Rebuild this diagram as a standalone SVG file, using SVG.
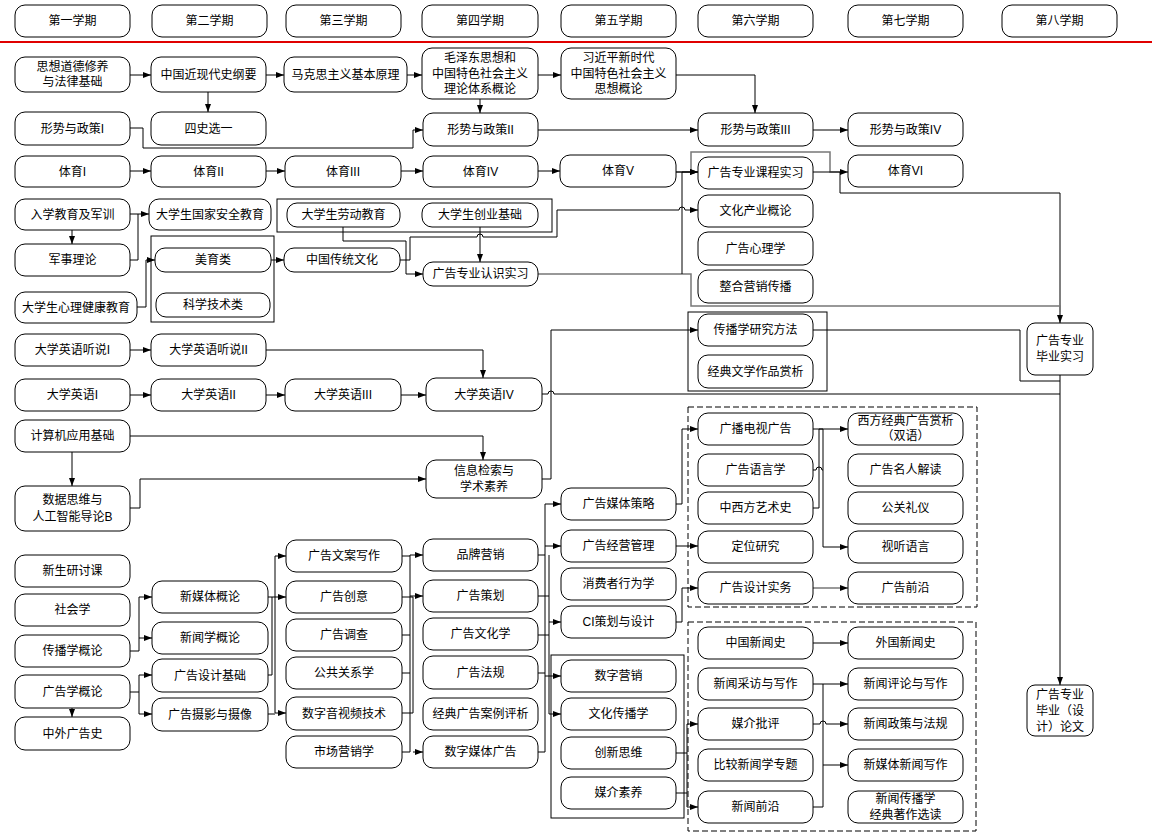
<svg xmlns="http://www.w3.org/2000/svg" width="1152" height="835" viewBox="0 0 1152 835">
<defs>
<marker id="a" markerWidth="8" markerHeight="6" refX="8" refY="3" orient="auto" markerUnits="userSpaceOnUse"><path d="M0,0 L8,3 L0,6 z" fill="#000"/></marker>
</defs>
<style>
.n rect{fill:#fff;stroke:#000;stroke-width:1}
.n text,.h text{font-family:'Liberation Sans','Noto Sans CJK SC',sans-serif;font-size:12px;text-anchor:middle;dominant-baseline:central;fill:#000}
.h rect{fill:#fff;stroke:#000;stroke-width:1}
.g{fill:none;stroke:#000;stroke-width:1}
.d{fill:none;stroke:#000;stroke-width:1;stroke-dasharray:6,3}
.c path{fill:none;stroke:#000;stroke-width:1}
.c path.ar{marker-end:url(#a)}
.c path.gr{stroke:#777;stroke-width:1.5}
</style>
<rect width="1152" height="835" fill="#fff"/>
<g id="headers">
<g class="h" id="h1"><rect x="15" y="5" width="115" height="32" rx="10"/><text x="72.5" y="21">第一学期</text></g>
<g class="h" id="h2"><rect x="152" y="5" width="115" height="32" rx="10"/><text x="209.5" y="21">第二学期</text></g>
<g class="h" id="h3"><rect x="286" y="5" width="115" height="32" rx="10"/><text x="343.5" y="21">第三学期</text></g>
<g class="h" id="h4"><rect x="422" y="5" width="116" height="32" rx="10"/><text x="480" y="21">第四学期</text></g>
<g class="h" id="h5"><rect x="561" y="5" width="115" height="32" rx="10"/><text x="618.5" y="21">第五学期</text></g>
<g class="h" id="h6"><rect x="698" y="5" width="115" height="32" rx="10"/><text x="755.5" y="21">第六学期</text></g>
<g class="h" id="h7"><rect x="848" y="5" width="115" height="32" rx="10"/><text x="905.5" y="21">第七学期</text></g>
<g class="h" id="h8"><rect x="1002" y="5" width="115" height="32" rx="10"/><text x="1059.5" y="21">第八学期</text></g>
</g>
<line x1="0" y1="42" x2="1152" y2="42" stroke="#e00000" stroke-width="2"/>

<g id="groups">
<rect class="g" x="277" y="199" width="275" height="33"/>
<rect class="g" x="151" y="236" width="123" height="86"/>
<rect class="g" x="688" y="312" width="139" height="79"/>
<rect class="g" x="551" y="655" width="133" height="163"/>
<rect class="d" x="688" y="407" width="289" height="200"/>
<rect class="d" x="688" y="622" width="288" height="209"/>
</g>

<g class="c" id="connectors">
<path class="ar" d="M130,75 H151"/>
<path class="ar" d="M266,75 H284"/>
<path class="ar" d="M407,75 H422"/>
<path class="ar" d="M538,75 H561"/>
<path class="ar" d="M208,92 V112"/>
<path class="ar" d="M480,99 V113"/>
<path class="ar" d="M676,75 H755 V113"/>
<path class="ar" d="M130,128 H143 V148 H413 V130 H423"/>
<path class="ar" d="M538,130 H698"/>
<path class="ar" d="M813,130 H848"/>
<path class="ar" d="M130,171 H151"/>
<path class="ar" d="M266,171 H285"/>
<path class="ar" d="M401,171 H423"/>
<path class="ar" d="M538,171 H560"/>
<path class="ar gr" d="M676,172 H691 V152 H830 V172 H848"/>
<path class="ar" d="M676,172 H698"/>
<path class="ar" d="M813,172 H840 V193 H1060 V323"/>
<path class="gr" d="M538,274 H691 V306 H1060 V312"/>
<path class="ar" d="M682,274 V172 H698"/>
<path class="ar" d="M400,260 H410 V237 H477 a3,3 0 0 1 6,0 H557 V210 H679 a3,3 0 0 1 6,0 H698"/>
<path class="ar" d="M343,227 V241 H406 V274 H423"/>
<path class="ar" d="M480,227 V262"/>
<path class="ar" d="M130,214 H149"/>
<path d="M130,260 H138 V214"/>
<path class="ar" d="M72,230 V244"/>
<path class="ar" d="M137,307 H146 V260 H155"/>
<path class="ar" d="M271,260 H284"/>
<path class="ar" d="M130,350 H151"/>
<path class="ar" d="M266,350 H483 V378"/>
<path class="ar" d="M130,395 H151"/>
<path class="ar" d="M266,395 H285"/>
<path class="ar" d="M401,395 H426"/>
<path class="ar" d="M542,394 H548 a3,3 0 0 1 6,0 H1060 V685"/>
<path class="ar" d="M130,436 H483 V460"/>
<path class="ar" d="M72,452 V486"/>
<path class="ar" d="M130,508 H140 V479 H426"/>
<path class="ar" d="M542,479 H551 V330 H698"/>
<path d="M813,330 H1020 V381 H1060"/>
<path d="M1060,375 V394"/>
<path class="ar" d="M813,429 H848"/>
<path d="M813,470 H816 a3,3 0 0 1 6,0 H823"/>
<path d="M813,508 H819 V429"/>
<path class="ar" d="M819,429 H823 V547 H848"/>
<path class="ar gr" d="M813,588 H848"/>
<path class="ar" d="M676,504 H682 V429 H698"/>
<path class="ar" d="M676,546 H698"/>
<path class="ar" d="M676,622 H682 V588 H698"/>
<path class="ar" d="M813,643 H848"/>
<path class="ar" d="M813,684 H848"/>
<path class="ar" d="M813,724 H820 a3,3 0 0 1 6,0 H848"/>
<path d="M813,807 H823 V684"/>
<path class="ar" d="M823,765 H848"/>
<path d="M676,753 H687"/>
<path d="M676,793 H687"/>
<path d="M687,724 V807"/>
<path class="ar" d="M687,724 H698"/>
<path class="ar" d="M687,807 H698"/>
<path class="ar" d="M130,651 H139 V597 H152"/>
<path class="ar" d="M139,638 H152"/>
<path class="ar" d="M130,692 H139 V675 H152"/>
<path class="ar" d="M139,692 V714 H152"/>
<path class="ar" d="M72,708 V717"/>
<path d="M268,597 H272 V675 H268"/>
<path d="M268,714 H272"/>
<path d="M275,556 V713"/>
<path d="M272,597 H275"/>
<path d="M272,714 H275"/>
<path class="ar" d="M275,556 H286"/>
<path class="ar" d="M275,597 H286"/>
<path class="ar" d="M275,713 H286"/>
<path d="M402,556 H410"/>
<path d="M402,597 H413"/>
<path d="M402,635 H410"/>
<path d="M402,673 H410"/>
<path d="M402,713 H413"/>
<path d="M402,752 H410"/>
<path d="M410,555 V752"/>
<path d="M413,597 V713"/>
<path class="ar" d="M410,555 H423"/>
<path class="ar" d="M410,596 H423"/>
<path class="ar" d="M413,752 H423"/>
<path d="M538,555 H545"/>
<path d="M538,596 H549"/>
<path d="M538,635 H549"/>
<path d="M538,673 H545"/>
<path d="M538,752 H545"/>
<path d="M545,504 V752"/>
<path d="M549,555 V714"/>
<path class="ar" d="M545,504 H561"/>
<path class="ar" d="M545,546 H561"/>
<path class="ar" d="M549,622 H561"/>
<path class="ar" d="M545,676 H561"/>
<path class="ar" d="M549,714 H561"/>
</g>

<g id="nodes">
<g class="n" id="sxdd"><rect x="15" y="57" width="115" height="35" rx="10"/><text x="72.5" y="67">思想道德修养</text><text x="72.5" y="82">与法律基础</text></g>
<g class="n" id="zgjxd"><rect x="151" y="57" width="115" height="35" rx="10"/><text x="208.5" y="74.5">中国近现代史纲要</text></g>
<g class="n" id="mks"><rect x="284" y="57" width="123" height="35" rx="10"/><text x="345.5" y="74.5">马克思主义基本原理</text></g>
<g class="n" id="mzd"><rect x="422" y="48" width="116" height="51" rx="10"/><text x="480" y="58">毛泽东思想和</text><text x="480" y="74">中国特色社会主义</text><text x="480" y="89">理论体系概论</text></g>
<g class="n" id="xjp"><rect x="561" y="48" width="115" height="51" rx="10"/><text x="618.5" y="58">习近平新时代</text><text x="618.5" y="74">中国特色社会主义</text><text x="618.5" y="89">思想概论</text></g>
<g class="n" id="xs1"><rect x="15" y="112" width="115" height="33" rx="10"/><text x="72.5" y="128.5">形势与政策I</text></g>
<g class="n" id="ssxy"><rect x="151" y="112" width="115" height="33" rx="10"/><text x="208.5" y="128.5">四史选一</text></g>
<g class="n" id="xs2"><rect x="423" y="113" width="115" height="33" rx="10"/><text x="480.5" y="129.5">形势与政策II</text></g>
<g class="n" id="xs3"><rect x="698" y="113" width="115" height="33" rx="10"/><text x="755.5" y="129.5">形势与政策III</text></g>
<g class="n" id="xs4"><rect x="848" y="113" width="115" height="33" rx="10"/><text x="905.5" y="129.5">形势与政策IV</text></g>
<g class="n" id="ty1"><rect x="15" y="156" width="115" height="31" rx="10"/><text x="72.5" y="171.5">体育I</text></g>
<g class="n" id="ty2"><rect x="151" y="156" width="115" height="31" rx="10"/><text x="208.5" y="171.5">体育II</text></g>
<g class="n" id="ty3"><rect x="285" y="156" width="116" height="31" rx="10"/><text x="343" y="171.5">体育III</text></g>
<g class="n" id="ty4"><rect x="423" y="156" width="115" height="31" rx="10"/><text x="480.5" y="171.5">体育IV</text></g>
<g class="n" id="ty5"><rect x="560" y="155" width="116" height="32" rx="10"/><text x="618" y="171">体育V</text></g>
<g class="n" id="kcsx"><rect x="698" y="157" width="115" height="32" rx="10"/><text x="755.5" y="173">广告专业课程实习</text></g>
<g class="n" id="ty6"><rect x="848" y="155" width="115" height="32" rx="10"/><text x="905.5" y="171">体育VI</text></g>
<g class="n" id="rxjy"><rect x="15" y="199" width="115" height="31" rx="10"/><text x="72.5" y="214.5">入学教育及军训</text></g>
<g class="n" id="gjaq"><rect x="149" y="199" width="122" height="31" rx="10"/><text x="210" y="214.5">大学生国家安全教育</text></g>
<g class="n" id="ldjy"><rect x="287" y="203" width="113" height="24" rx="10"/><text x="343.5" y="215">大学生劳动教育</text></g>
<g class="n" id="cyjc"><rect x="422" y="203" width="116" height="24" rx="10"/><text x="480" y="215">大学生创业基础</text></g>
<g class="n" id="whcy"><rect x="698" y="195" width="115" height="32" rx="10"/><text x="755.5" y="211">文化产业概论</text></g>
<g class="n" id="jsll"><rect x="15" y="244" width="115" height="32" rx="10"/><text x="72.5" y="260">军事理论</text></g>
<g class="n" id="myl"><rect x="155" y="248" width="116" height="24" rx="10"/><text x="213" y="260">美育类</text></g>
<g class="n" id="kxjs"><rect x="156" y="293" width="114" height="24" rx="10"/><text x="213" y="305">科学技术类</text></g>
<g class="n" id="ctwh"><rect x="284" y="248" width="116" height="24" rx="10"/><text x="342" y="260">中国传统文化</text></g>
<g class="n" id="rssx"><rect x="423" y="262" width="115" height="24" rx="10"/><text x="480.5" y="274">广告专业认识实习</text></g>
<g class="n" id="ggxl"><rect x="698" y="232" width="115" height="33" rx="10"/><text x="755.5" y="248.5">广告心理学</text></g>
<g class="n" id="zhyx"><rect x="698" y="270" width="115" height="33" rx="10"/><text x="755.5" y="286.5">整合营销传播</text></g>
<g class="n" id="xljk"><rect x="15" y="292" width="122" height="31" rx="10"/><text x="76" y="307.5">大学生心理健康教育</text></g>
<g class="n" id="cbyj"><rect x="698" y="314" width="115" height="32" rx="10"/><text x="755.5" y="330">传播学研究方法</text></g>
<g class="n" id="jdwx"><rect x="698" y="355" width="115" height="33" rx="10"/><text x="755.5" y="371.5">经典文学作品赏析</text></g>
<g class="n" id="bysx"><rect x="1027" y="323" width="66" height="52" rx="8"/><text x="1060" y="341">广告专业</text><text x="1060" y="357">毕业实习</text></g>
<g class="n" id="tsy1"><rect x="15" y="334" width="115" height="32" rx="10"/><text x="72.5" y="350">大学英语听说I</text></g>
<g class="n" id="tsy2"><rect x="151" y="334" width="115" height="32" rx="10"/><text x="208.5" y="350">大学英语听说II</text></g>
<g class="n" id="yy1"><rect x="15" y="379" width="115" height="32" rx="10"/><text x="72.5" y="395">大学英语I</text></g>
<g class="n" id="yy2"><rect x="151" y="379" width="115" height="32" rx="10"/><text x="208.5" y="395">大学英语II</text></g>
<g class="n" id="yy3"><rect x="285" y="379" width="116" height="32" rx="10"/><text x="343" y="395">大学英语III</text></g>
<g class="n" id="yy4"><rect x="426" y="378" width="116" height="33" rx="10"/><text x="484" y="394.5">大学英语IV</text></g>
<g class="n" id="jsj"><rect x="15" y="420" width="115" height="32" rx="10"/><text x="72.5" y="436">计算机应用基础</text></g>
<g class="n" id="sjsw"><rect x="15" y="486" width="115" height="45" rx="10"/><text x="72.5" y="500">数据思维与</text><text x="72.5" y="517">人工智能导论B</text></g>
<g class="n" id="xxjs"><rect x="426" y="460" width="116" height="38" rx="10"/><text x="484" y="471">信息检索与</text><text x="484" y="487">学术素养</text></g>
<g class="n" id="gbds"><rect x="698" y="413" width="115" height="32" rx="10"/><text x="755.5" y="429">广播电视广告</text></g>
<g class="n" id="ggyy"><rect x="698" y="454" width="115" height="32" rx="10"/><text x="755.5" y="470">广告语言学</text></g>
<g class="n" id="zxys"><rect x="698" y="492" width="115" height="32" rx="10"/><text x="755.5" y="508">中西方艺术史</text></g>
<g class="n" id="dwyj"><rect x="698" y="531" width="115" height="32" rx="10"/><text x="755.5" y="547">定位研究</text></g>
<g class="n" id="ggsj"><rect x="698" y="572" width="115" height="32" rx="10"/><text x="755.5" y="588">广告设计实务</text></g>
<g class="n" id="xfjd"><rect x="848" y="413" width="115" height="32" rx="10"/><text x="905.5" y="421">西方经典广告赏析</text><text x="905.5" y="436">（双语）</text></g>
<g class="n" id="ggmr"><rect x="848" y="454" width="115" height="32" rx="10"/><text x="905.5" y="470">广告名人解读</text></g>
<g class="n" id="gglx"><rect x="848" y="492" width="115" height="32" rx="10"/><text x="905.5" y="508">公关礼仪</text></g>
<g class="n" id="stzy"><rect x="848" y="531" width="115" height="32" rx="10"/><text x="905.5" y="547">视听语言</text></g>
<g class="n" id="ggqy"><rect x="848" y="572" width="115" height="32" rx="10"/><text x="905.5" y="588">广告前沿</text></g>
<g class="n" id="ggmt"><rect x="561" y="488" width="115" height="32" rx="10"/><text x="618.5" y="504">广告媒体策略</text></g>
<g class="n" id="ggjy"><rect x="561" y="530" width="115" height="32" rx="10"/><text x="618.5" y="546">广告经营管理</text></g>
<g class="n" id="xfz"><rect x="561" y="568" width="115" height="32" rx="10"/><text x="618.5" y="584">消费者行为学</text></g>
<g class="n" id="cich"><rect x="561" y="606" width="115" height="32" rx="10"/><text x="618.5" y="622">CI策划与设计</text></g>
<g class="n" id="szyx"><rect x="561" y="660" width="115" height="32" rx="10"/><text x="618.5" y="676">数字营销</text></g>
<g class="n" id="whcb"><rect x="561" y="698" width="115" height="32" rx="10"/><text x="618.5" y="714">文化传播学</text></g>
<g class="n" id="cxsw"><rect x="561" y="737" width="115" height="32" rx="10"/><text x="618.5" y="753">创新思维</text></g>
<g class="n" id="mjsy"><rect x="561" y="777" width="115" height="32" rx="10"/><text x="618.5" y="793">媒介素养</text></g>
<g class="n" id="zgxw"><rect x="698" y="627" width="115" height="32" rx="10"/><text x="755.5" y="643">中国新闻史</text></g>
<g class="n" id="wgxw"><rect x="848" y="627" width="115" height="32" rx="10"/><text x="905.5" y="643">外国新闻史</text></g>
<g class="n" id="xwcf"><rect x="698" y="668" width="115" height="32" rx="10"/><text x="755.5" y="684">新闻采访与写作</text></g>
<g class="n" id="xwpl"><rect x="848" y="668" width="115" height="32" rx="10"/><text x="905.5" y="684">新闻评论与写作</text></g>
<g class="n" id="mjpp"><rect x="698" y="708" width="115" height="32" rx="10"/><text x="755.5" y="724">媒介批评</text></g>
<g class="n" id="xwzc"><rect x="848" y="708" width="115" height="32" rx="10"/><text x="905.5" y="724">新闻政策与法规</text></g>
<g class="n" id="bjxw"><rect x="698" y="749" width="115" height="32" rx="10"/><text x="755.5" y="765">比较新闻学专题</text></g>
<g class="n" id="xmtxw"><rect x="848" y="749" width="115" height="32" rx="10"/><text x="905.5" y="765">新媒体新闻写作</text></g>
<g class="n" id="xwqy"><rect x="698" y="791" width="115" height="32" rx="10"/><text x="755.5" y="807">新闻前沿</text></g>
<g class="n" id="xwcbjd"><rect x="848" y="791" width="115" height="32" rx="10"/><text x="905.5" y="799">新闻传播学</text><text x="905.5" y="815">经典著作选读</text></g>
<g class="n" id="bylw"><rect x="1027" y="685" width="66" height="51" rx="8"/><text x="1060" y="695">广告专业</text><text x="1060" y="711">毕业（设</text><text x="1060" y="727">计）论文</text></g>
<g class="n" id="ppyx"><rect x="423" y="539" width="115" height="32" rx="10"/><text x="480.5" y="555">品牌营销</text></g>
<g class="n" id="ggch"><rect x="423" y="580" width="115" height="32" rx="10"/><text x="480.5" y="596">广告策划</text></g>
<g class="n" id="ggwh"><rect x="423" y="618" width="115" height="32" rx="10"/><text x="480.5" y="634">广告文化学</text></g>
<g class="n" id="ggfg"><rect x="423" y="656" width="115" height="33" rx="10"/><text x="480.5" y="672.5">广告法规</text></g>
<g class="n" id="jdal"><rect x="423" y="698" width="115" height="32" rx="10"/><text x="480.5" y="714">经典广告案例评析</text></g>
<g class="n" id="szmt"><rect x="423" y="736" width="115" height="32" rx="10"/><text x="480.5" y="752">数字媒体广告</text></g>
<g class="n" id="ggwa"><rect x="286" y="540" width="116" height="32" rx="10"/><text x="344" y="556">广告文案写作</text></g>
<g class="n" id="ggcy"><rect x="286" y="581" width="116" height="32" rx="10"/><text x="344" y="597">广告创意</text></g>
<g class="n" id="ggdc"><rect x="286" y="619" width="116" height="32" rx="10"/><text x="344" y="635">广告调查</text></g>
<g class="n" id="ggxx"><rect x="286" y="657" width="116" height="32" rx="10"/><text x="344" y="673">公共关系学</text></g>
<g class="n" id="szyp"><rect x="286" y="697" width="116" height="33" rx="10"/><text x="344" y="713.5">数字音视频技术</text></g>
<g class="n" id="scyx"><rect x="286" y="736" width="116" height="32" rx="10"/><text x="344" y="752">市场营销学</text></g>
<g class="n" id="xmtgl"><rect x="152" y="581" width="116" height="32" rx="10"/><text x="210" y="597">新媒体概论</text></g>
<g class="n" id="xwxgl"><rect x="152" y="622" width="116" height="32" rx="10"/><text x="210" y="638">新闻学概论</text></g>
<g class="n" id="ggsjjc"><rect x="152" y="659" width="116" height="33" rx="10"/><text x="210" y="675.5">广告设计基础</text></g>
<g class="n" id="ggsy"><rect x="152" y="698" width="116" height="33" rx="10"/><text x="210" y="714.5">广告摄影与摄像</text></g>
<g class="n" id="xsyt"><rect x="15" y="555" width="115" height="32" rx="10"/><text x="72.5" y="571">新生研讨课</text></g>
<g class="n" id="shx"><rect x="15" y="594" width="115" height="32" rx="10"/><text x="72.5" y="610">社会学</text></g>
<g class="n" id="cbxgl"><rect x="15" y="635" width="115" height="32" rx="10"/><text x="72.5" y="651">传播学概论</text></g>
<g class="n" id="ggxgl"><rect x="15" y="675" width="115" height="33" rx="10"/><text x="72.5" y="691.5">广告学概论</text></g>
<g class="n" id="zwggs"><rect x="15" y="717" width="115" height="33" rx="10"/><text x="72.5" y="733.5">中外广告史</text></g>
</g>
</svg>
